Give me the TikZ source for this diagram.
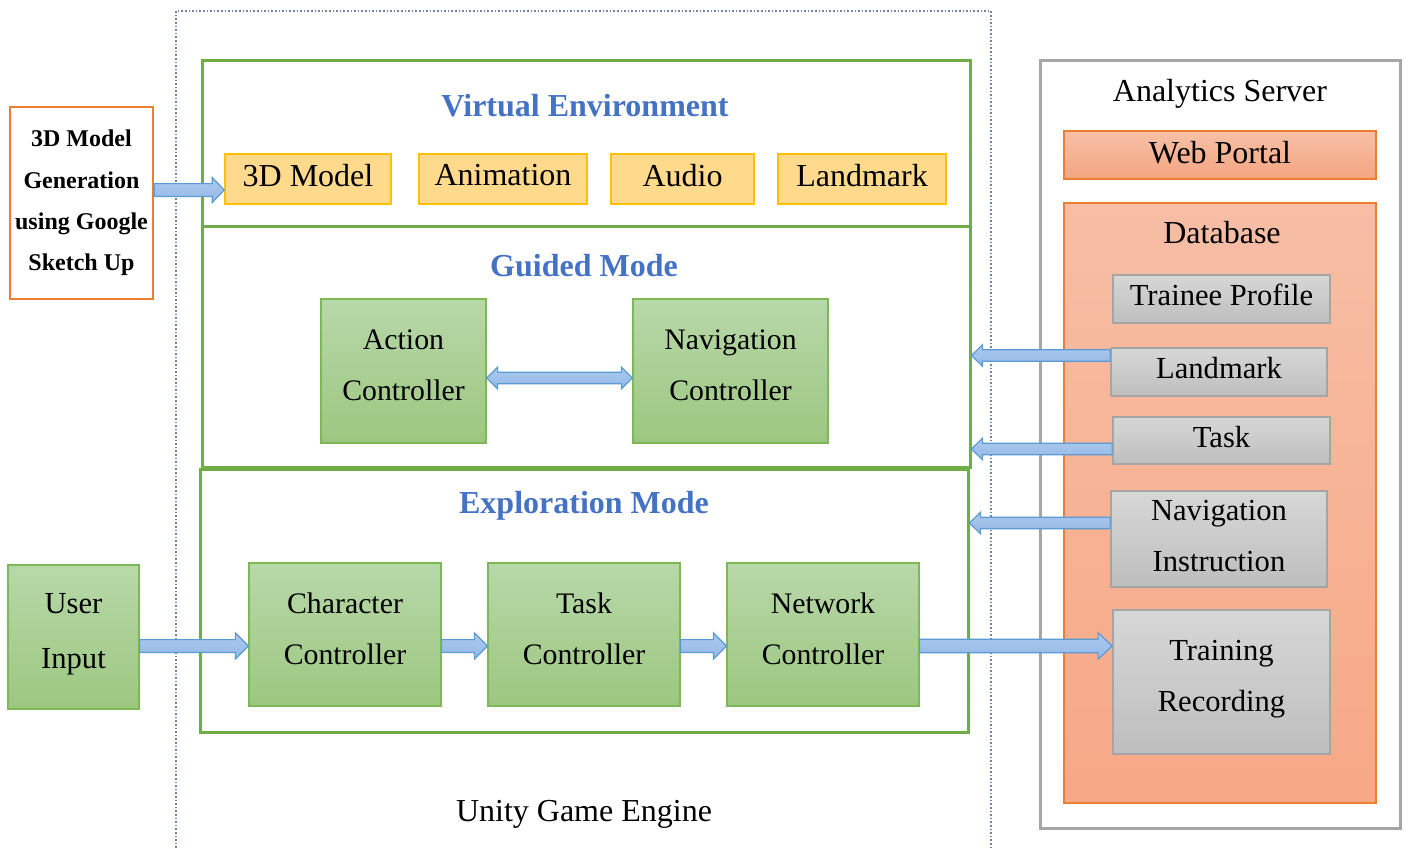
\documentclass[tikz,border=0pt]{standalone}
\usepackage{fontspec}
\setmainfont{Liberation Serif}
\usetikzlibrary{calc}
\definecolor{frameGreen}{RGB}{112,173,71}
\definecolor{boxGreenT}{RGB}{184,216,169}
\definecolor{boxGreenB}{RGB}{156,199,128}
\definecolor{boxGreenD}{RGB}{125,183,86}
\definecolor{yelFill}{RGB}{255,217,140}
\definecolor{yelDraw}{RGB}{255,192,0}
\definecolor{orgDraw}{RGB}{237,125,49}
\definecolor{titleBlue}{RGB}{68,114,196}
\definecolor{grayT}{RGB}{215,215,215}
\definecolor{grayB}{RGB}{190,190,190}
\definecolor{grayD}{RGB}{165,165,165}
\definecolor{serverD}{RGB}{166,166,166}
\definecolor{wpT}{RGB}{247,192,167}
\definecolor{wpB}{RGB}{244,165,128}
\definecolor{dbT}{RGB}{247,190,165}
\definecolor{dbB}{RGB}{247,168,134}
\definecolor{arrT}{RGB}{172,202,238}
\definecolor{arrB}{RGB}{148,184,230}
\definecolor{arrD}{RGB}{91,155,213}
\definecolor{unityD}{RGB}{110,130,170}
\newcommand\regfont{\fontsize{15.3}{25.5}\selectfont}
\newcommand\grnfont{\fontsize{14.9}{25.5}\selectfont}
\newcommand\bigfont{\fontsize{16}{19}\selectfont}
% right/left block arrow: from, to, shaft half, head half, head length
\newcommand\harrow[5]{%
  \path[barrow] let \p1=#1, \p2=#2, \n1={ifthenelse(\x2>\x1,1,-1)} in
   (\x1,\y1+#3) -- ({\x2-\n1*#5},\y1+#3) -- ({\x2-\n1*#5},\y1+#4) -- (\x2,\y1)
   -- ({\x2-\n1*#5},\y1-#4) -- ({\x2-\n1*#5},\y1-#3) -- (\x1,\y1-#3) -- cycle;}
\newcommand\dharrow[5]{%
  \path[barrow] let \p1=#1, \p2=#2 in
   (\x1,\y1) -- (\x1+#5,\y1+#4) -- (\x1+#5,\y1+#3) -- (\x2-#5,\y1+#3) -- (\x2-#5,\y1+#4)
   -- (\x2,\y1) -- (\x2-#5,\y1-#4) -- (\x2-#5,\y1-#3) -- (\x1+#5,\y1-#3) -- (\x1+#5,\y1-#4) -- cycle;}
\begin{document}
\begin{tikzpicture}[x=0.5pt,y=-0.5pt,
  bx/.style 2 args={minimum width={#1*0.5pt}, minimum height={#2*0.5pt}, inner sep=0pt, align=center},
  greenframe/.style={draw=frameGreen, line width=1.5pt},
  title/.style={font=\fontsize{16}{19}\selectfont\bfseries, text=titleBlue},
  plain/.style={font=\bigfont},
  yelbox/.style={fill=yelFill, draw=yelDraw, line width=0.7pt, font=\bigfont, text depth=4pt},
  grnbox/.style={top color=boxGreenT, bottom color=boxGreenB, draw=boxGreenD, line width=0.6pt, font=\grnfont, text depth=6pt},
  grybox/.style={top color=grayT, bottom color=grayB, draw=grayD, line width=0.9pt, font=\regfont, text depth=4pt},
  barrow/.style={top color=arrT, bottom color=arrB, draw=arrD, line width=0.6pt},
]
\useasboundingbox (0,0) rectangle (1408,848);
% Unity engine frame
\draw[unityD, line width=0.8pt, densely dotted] (176,848) -- (176,11) -- (991,11) -- (991,848);
\node[plain] (unitylbl) at (584,814) {Unity Game Engine};

% mode frames
\node[greenframe, bx={768}{166}] (ve) at (586,143) {};
\node[greenframe, bx={768}{241}] (gm) at (586,346.5) {};
\node[greenframe, bx={768}{263}] (em) at (584,600.5) {};
\node[title] (vet) at (585,106) {Virtual Environment};
\node[title] (gmt) at (584,266) {Guided Mode};
\node[title] (emt) at (584,506) {Exploration Mode};

% virtual environment items
\node[yelbox, bx={166}{50}] (m3d) at (308,179) {3D Model};
\node[yelbox, bx={168}{50}] (ani) at (503,179) {Animation};
\node[yelbox, bx={143}{50}] (aud) at (682.5,179) {Audio};
\node[yelbox, bx={168}{50}] (lmk) at (862,179) {Landmark};

% generation box
\node[draw=orgDraw, line width=1.3pt, bx={143}{192}, font=\fontsize{12}{20.7}\selectfont\bfseries] (gen) at (81.5,203)
  {3D Model\\Generation\\using Google\\Sketch Up};

% guided mode
\node[grnbox, bx={165}{144}] (act) at (403.5,371) {Action\\Controller};
\node[grnbox, bx={195}{144}] (nav) at (730.5,371) {Navigation\\Controller};

% exploration
\node[grnbox, bx={131}{144}, font=\fontsize{15.3}{27.5}\selectfont] (ui) at (73.5,637) {User\\Input};
\node[grnbox, bx={192}{143}] (chc) at (345,634.5) {Character\\Controller};
\node[grnbox, bx={192}{143}] (tsk) at (584,634.5) {Task\\Controller};
\node[grnbox, bx={192}{143}] (net) at (823,634.5) {Network\\Controller};

% analytics server
\node[draw=serverD, line width=1.5pt, bx={360}{768}] (as) at (1220,444) {};
\node[plain] (aslbl) at (1220,94) {Analytics Server};
\node[top color=wpT, bottom color=wpB, draw=orgDraw, line width=0.7pt, bx={312}{48}, font=\bigfont, text depth=3pt] (wp) at (1220,155) {Web Portal};
\node[top color=dbT, bottom color=dbB, draw=orgDraw, line width=0.7pt, bx={312}{600}] (db) at (1220,503) {};
\node[plain] (dblbl) at (1222,233) {Database};
\node[grybox, bx={217}{48}] (tp) at (1221.5,299) {Trainee Profile};
\node[grybox, bx={216}{48}] (dlm) at (1219,372) {Landmark};
\node[grybox, bx={217}{47}] (dtk) at (1221.5,440.5) {Task};
\node[grybox, bx={216}{96}, text depth=3pt] (ni) at (1219,539) {Navigation\\Instruction};
\node[grybox, bx={217}{144}, text depth=6pt] (tr) at (1221.5,682) {Training\\Recording};

% row coordinates for arrows
\coordinate (Y190) at (0,190);
\coordinate (Y378) at (0,378);
\coordinate (Y355) at (0,355.5);
\coordinate (Y449) at (0,449);
\coordinate (Y523) at (0,523);
\coordinate (Y646) at (0,646);

% arrows
\harrow{(gen.east |- Y190)}{(m3d.west |- Y190)}{3.2pt}{6.2pt}{6pt}
\dharrow{(act.east |- Y378)}{(nav.west |- Y378)}{2.9pt}{5.4pt}{5.5pt}
\harrow{(dlm.west |- Y355)}{(gm.east |- Y355)}{2.9pt}{5.4pt}{5.5pt}
\harrow{(dtk.west |- Y449)}{(gm.east |- Y449)}{2.9pt}{5.4pt}{5.5pt}
\harrow{(ni.west |- Y523)}{(em.east |- Y523)}{2.9pt}{5.4pt}{5.5pt}
\harrow{(ui.east |- Y646)}{(chc.west |- Y646)}{3.2pt}{6.6pt}{6.5pt}
\harrow{(chc.east |- Y646)}{(tsk.west |- Y646)}{3.2pt}{6.6pt}{6.5pt}
\harrow{(tsk.east |- Y646)}{(net.west |- Y646)}{3.2pt}{6.6pt}{6.5pt}
\harrow{(net.east |- Y646)}{(tr.west |- Y646)}{3.4pt}{6.6pt}{7pt}
\end{tikzpicture}
\end{document}
